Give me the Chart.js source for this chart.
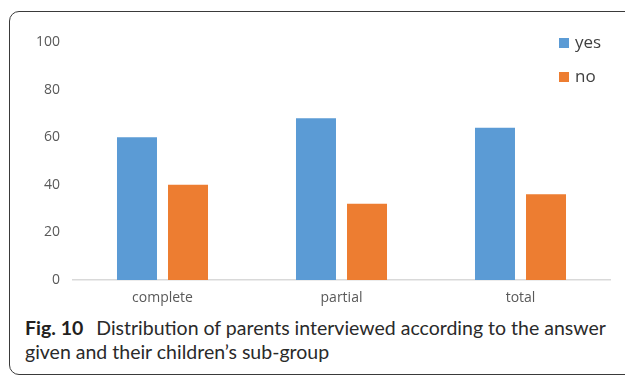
<!DOCTYPE html>
<html>
<head>
<meta charset="utf-8">
<script src="https://cdn.jsdelivr.net/npm/chart.js@4"></script>
<style>
  html, body { margin: 0; padding: 0; background: #fff; }
  body { width: 625px; height: 381px; position: relative; overflow: hidden; }
  #frame {
    position: absolute; left: 9px; top: 11px; width: 640px; height: 364px;
    border: 1.5px solid #3a3a3a; border-radius: 10px; box-sizing: border-box;
  }
  #wrap { position: absolute; left: 0; top: 0; width: 625px; height: 310px; }
  #caption {
    position: absolute; left: 25px; top: 316px; width: 600px;
    font-family: Lato, sans-serif; font-size: 19.5px; line-height: 24px;
    color: #2a2a2a; white-space: nowrap;
  }
  #caption b { font-weight: 700; margin-right: 8px; color: #231f20; }
</style>
</head>
<body>
<div id="frame"></div>
<div id="wrap"><canvas id="chart" width="625" height="310"></canvas></div>
<div id="caption"><b>Fig. 10</b> Distribution of parents interviewed according to the answer<br>given and their children’s sub-group</div>
<script>
const groups = ['complete', 'partial', 'total'];
const yesValues = [60, 68, 64];
const noValues = [40, 32, 36];
const yTicks = [0, 20, 40, 60, 80, 100];

// legend stacked in the top-right corner of the plot
const cornerLegend = {
  id: 'cornerLegend',
  afterDraw(chart) {
    const ctx = chart.ctx;
    const rows = [38, 72];
    ctx.save();
    ctx.font = '17px "Open Sans", sans-serif';
    ctx.textBaseline = 'middle';
    chart.data.datasets.forEach((ds, i) => {
      ctx.fillStyle = ds.backgroundColor;
      ctx.fillRect(559, rows[i], 10, 10);
      ctx.fillStyle = '#404040';
      ctx.fillText(ds.label, 575, rows[i] + 5);
    });
    ctx.restore();
  }
};

new Chart(document.getElementById('chart'), {
  type: 'bar',
  data: {
    labels: groups,
    datasets: [
      { label: 'yes', data: yesValues, backgroundColor: '#5b9bd5' },
      { label: 'no', data: noValues, backgroundColor: '#ed7d31' }
    ]
  },
  options: {
    responsive: false,
    animation: false,
    layout: { padding: { left: 10, top: 42, right: 15, bottom: 0 } },
    datasets: { bar: { categoryPercentage: 0.57, barPercentage: 0.784 } },
    plugins: { legend: { display: false }, tooltip: { enabled: false } },
    scales: {
      x: {
        grid: { display: false, drawTicks: false },
        border: { color: '#d9d9d9', width: 1.5 },
        ticks: { color: '#595959', padding: 10, font: { family: '"Open Sans", sans-serif', size: 14 } },
        afterFit(scale) { scale.height = 30; }
      },
      y: {
        min: 0,
        max: 100,
        grid: { display: false, drawTicks: false },
        border: { display: false },
        afterBuildTicks(scale) { scale.ticks = yTicks.map(v => ({ value: v })); },
        ticks: { color: '#595959', padding: 13, font: { family: '"Open Sans", sans-serif', size: 14 } },
        afterFit(scale) { scale.width = 63; }
      }
    }
  },
  plugins: [cornerLegend]
});
</script>
</body>
</html>
